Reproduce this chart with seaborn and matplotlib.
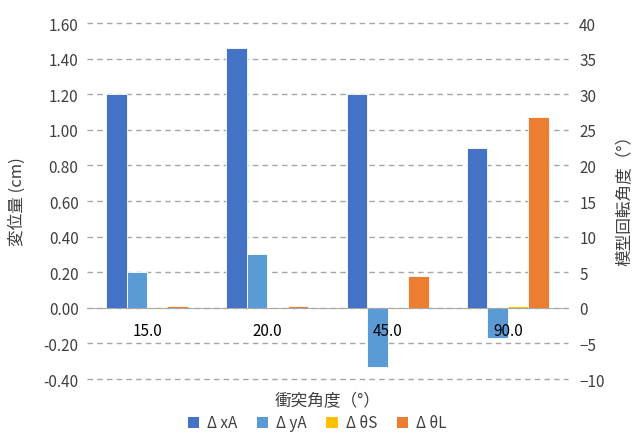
import numpy as np
import pandas as pd
import seaborn as sns
import matplotlib.pyplot as plt
from matplotlib.patches import Patch
from matplotlib.ticker import FormatStrFormatter, MultipleLocator

# Collision angles and measured results
angles = ["15.0", "20.0", "45.0", "90.0"]
dxA = [1.20, 1.46, 1.20, 0.90]      # cm
dyA = [0.20, 0.30, -0.33, -0.17]    # cm
dthS = [-0.2, -0.1, -0.2, 0.3]      # degrees
dthL = [0.3, 0.2, 4.4, 26.8]        # degrees

series = ["Δ xA", "Δ yA", "Δ θS", "Δ θL"]
colors = ["#4472C4", "#5B9BD5", "#FFC000", "#ED7D31"]
palette = dict(zip(series, colors))

disp = pd.DataFrame({
    "angle": angles * 2,
    "series": [series[0]] * 4 + [series[1]] * 4,
    "value": dxA + dyA,
})
rot = pd.DataFrame({
    "angle": angles * 2,
    "series": [series[2]] * 4 + [series[3]] * 4,
    "value": dthS + dthL,
})

sns.set_theme(style="white")
plt.rcParams["font.family"] = ["Noto Sans CJK JP", "DejaVu Sans"]

fig = plt.figure(figsize=(6.34, 4.35), dpi=100)
ax = fig.add_axes([0.137, 0.1264, 0.759, 0.8184])
ax2 = ax.twinx()

# Rotation axis sits underneath and carries the gridlines;
# the displacement axis is drawn on top with a transparent background
ax2.set_zorder(0)
ax.set_zorder(1)
ax.patch.set_visible(False)
ax2.set_axisbelow(True)
ax2.yaxis.grid(True, color="#A6A6A6", linestyle=(0, (4, 3)), linewidth=1.0)
ax2.xaxis.grid(False)
ax.grid(False)
ax.set_axisbelow(False)   # category labels and zero line over the bars

bar_kw = dict(x="angle", y="value", hue="series", hue_order=series,
              order=angles, palette=palette, width=0.68, legend=False,
              edgecolor="white", linewidth=0.6, errorbar=None, saturation=1)
sns.barplot(data=rot, ax=ax2, **bar_kw)
sns.barplot(data=disp, ax=ax, **bar_kw)

ax.set_ylim(-0.4, 1.6)
ax2.set_ylim(-10, 40)
ax.yaxis.set_major_locator(MultipleLocator(0.2))
ax.yaxis.set_major_formatter(FormatStrFormatter("%.2f"))
ax2.yaxis.set_major_locator(MultipleLocator(5))
for gl in ax2.get_ygridlines():
    gl.set_clip_on(False)

for a in (ax, ax2):
    for s in a.spines.values():
        s.set_visible(False)
ax.spines["bottom"].set_visible(True)
ax.spines["bottom"].set_position(("data", 0))
ax.spines["bottom"].set_color("#A6A6A6")
ax.spines["bottom"].set_linewidth(0.7)

tick_color = "#404040"
ax.tick_params(axis="x", length=0, pad=10, labelsize=11, labelcolor="black")
ax.tick_params(axis="y", length=0, pad=6, labelsize=11, labelcolor=tick_color)
ax2.tick_params(axis="y", length=0, pad=8, labelsize=11, labelcolor=tick_color)

ax.set_xlabel("衝突角度（°）", fontsize=12, color=tick_color)
ax.xaxis.set_label_coords(0.5, -0.036)
ax.set_ylabel("変位量 (cm)", fontsize=12, color=tick_color)
ax.yaxis.set_label_coords(-0.127, 0.5)
ax2.set_ylabel("模型回転角度（°）", fontsize=12, color=tick_color, rotation=90)
ax2.yaxis.set_label_coords(1.1, 0.515)

handles = [Patch(facecolor=c, edgecolor="none", label=s) for s, c in zip(series, colors)]
fig.legend(handles=handles, loc="center", bbox_to_anchor=(0.5, 1 - 424 / 435),
           ncol=4, frameon=False, fontsize=11, handlelength=0.75,
           handleheight=0.75, handletextpad=0.5, columnspacing=1.3,
           labelcolor=tick_color)

fig.savefig("out.png", dpi=100)
